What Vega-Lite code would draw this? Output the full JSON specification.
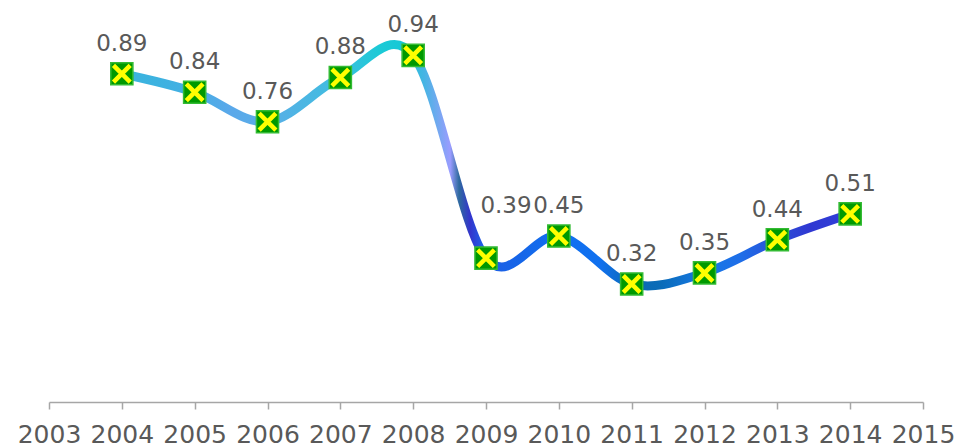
{
  "$schema": "https://vega.github.io/schema/vega-lite/v6.json",
  "width": 874,
  "height": 402,
  "autosize": "none",
  "padding": {"left": 49, "top": 0, "right": 52, "bottom": 46},
  "background": "white",
  "config": {"view": {"stroke": null}},
  "data": {
    "values": [
      {"year": 2004, "value": 0.89, "label": "0.89"},
      {"year": 2005, "value": 0.84, "label": "0.84"},
      {"year": 2006, "value": 0.76, "label": "0.76"},
      {"year": 2007, "value": 0.88, "label": "0.88"},
      {"year": 2008, "value": 0.94, "label": "0.94"},
      {"year": 2009, "value": 0.39, "label": "0.39"},
      {"year": 2010, "value": 0.45, "label": "0.45"},
      {"year": 2011, "value": 0.32, "label": "0.32"},
      {"year": 2012, "value": 0.35, "label": "0.35"},
      {"year": 2013, "value": 0.44, "label": "0.44"},
      {"year": 2014, "value": 0.51, "label": "0.51"}
    ]
  },
  "encoding": {
    "x": {
      "field": "year",
      "type": "quantitative",
      "scale": {"domain": [2003, 2015], "nice": false, "zero": false},
      "axis": {
        "title": null,
        "values": [2003, 2004, 2005, 2006, 2007, 2008, 2009, 2010, 2011, 2012, 2013, 2014, 2015],
        "format": "d",
        "grid": false,
        "domainColor": "#A6A6A6",
        "domainWidth": 1.5,
        "tickColor": "#A6A6A6",
        "tickWidth": 1.5,
        "tickSize": 7,
        "labelFont": "DejaVu Sans",
        "labelFontSize": 25,
        "labelColor": "#595959",
        "labelPadding": 13,
        "labelFlush": false,
        "labelOverlap": false
      }
    },
    "y": {
      "field": "value",
      "type": "quantitative",
      "scale": {"domain": [0, 1.09], "nice": false},
      "axis": null
    }
  },
  "layer": [
    {
      "mark": {
        "type": "line",
        "interpolate": "cardinal",
        "tension": 0,
        "strokeWidth": 9,
        "strokeCap": "round",
        "strokeJoin": "round",
        "color": {
          "gradient": "linear",
          "x1": 0, "y1": 0, "x2": 1, "y2": 0,
          "stops": [
            {"offset": 0, "color": "#3AB4DE"},
            {"offset": 0.05, "color": "#3DB2E0"},
            {"offset": 0.1, "color": "#45AEE4"},
            {"offset": 0.148, "color": "#5AA8EA"},
            {"offset": 0.2, "color": "#5AAEE8"},
            {"offset": 0.245, "color": "#4DB5E3"},
            {"offset": 0.3, "color": "#3EBEE0"},
            {"offset": 0.354, "color": "#1CCAD6"},
            {"offset": 0.382, "color": "#16C8D6"},
            {"offset": 0.398, "color": "#2ABEDC"},
            {"offset": 0.416, "color": "#48B4E4"},
            {"offset": 0.437, "color": "#7AA6F2"},
            {"offset": 0.451, "color": "#9A9CFF"},
            {"offset": 0.463, "color": "#2E6A9E"},
            {"offset": 0.478, "color": "#3434CC"},
            {"offset": 0.495, "color": "#1F5EE6"},
            {"offset": 0.547, "color": "#1565E8"},
            {"offset": 0.6, "color": "#1170F2"},
            {"offset": 0.657, "color": "#1070EE"},
            {"offset": 0.7, "color": "#0B6AB4"},
            {"offset": 0.74, "color": "#0A6CB8"},
            {"offset": 0.8, "color": "#1878E6"},
            {"offset": 0.85, "color": "#1E6EE8"},
            {"offset": 0.9, "color": "#2B4ED8"},
            {"offset": 0.945, "color": "#3038D2"},
            {"offset": 1, "color": "#3040D8"}
          ]
        }
      }
    },
    {
      "mark": {
        "type": "point",
        "shape": "square",
        "size": 490,
        "filled": true,
        "fill": "#009900",
        "stroke": "#33BB33",
        "strokeWidth": 1.5,
        "opacity": 1
      }
    },
    {
      "mark": {
        "type": "point",
        "shape": "M-1,-1L1,1M-1,1L1,-1",
        "size": 280,
        "filled": false,
        "stroke": "#FFFF00",
        "strokeWidth": 4.5,
        "strokeCap": "butt",
        "opacity": 1
      }
    },
    {
      "transform": [{"filter": "datum.year != 2009"}],
      "mark": {
        "type": "text",
        "font": "DejaVu Sans",
        "fontSize": 23,
        "color": "#595959",
        "baseline": "alphabetic",
        "align": "center",
        "dy": -23
      },
      "encoding": {"text": {"field": "label"}}
    },
    {
      "transform": [{"filter": "datum.year == 2009"}],
      "mark": {
        "type": "text",
        "font": "DejaVu Sans",
        "fontSize": 23,
        "color": "#595959",
        "baseline": "alphabetic",
        "align": "center",
        "dx": 20,
        "dy": -45
      },
      "encoding": {"text": {"field": "label"}}
    }
  ]
}
